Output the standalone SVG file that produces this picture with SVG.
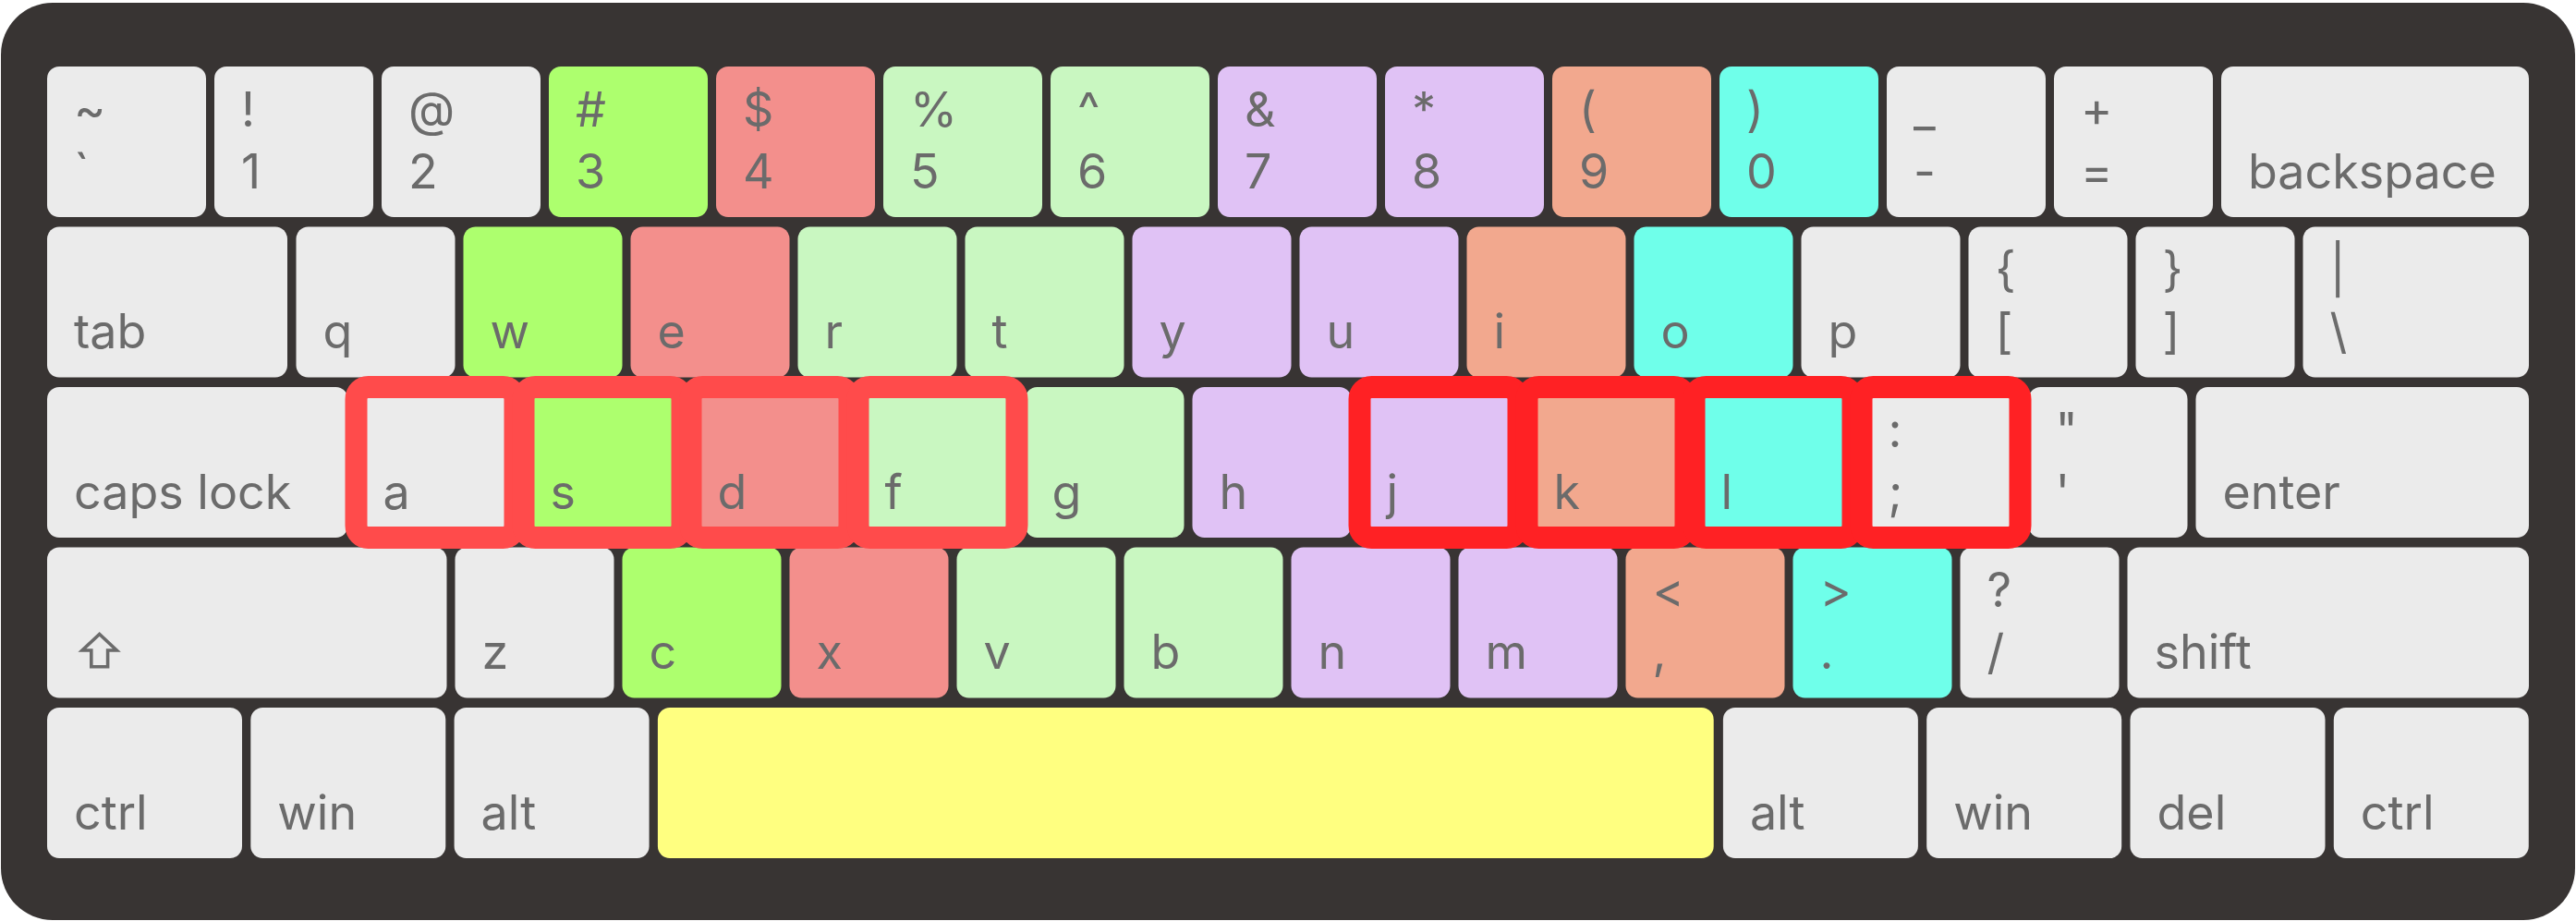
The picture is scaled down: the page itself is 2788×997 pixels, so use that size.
<svg xmlns="http://www.w3.org/2000/svg" width="2788" height="997" viewBox="0 0 2788 997">
<style>
.k{fill:#EBEBEB}
.g1{fill:#ADFF6E}
.pk{fill:#F38F8C}
.lg{fill:#C9F7C1}
.lv{fill:#E0C2F5}
.sa{fill:#F2A88E}
.cy{fill:#6FFFEA}
.sp{fill:#FFFF80}
.oL{stroke:#FF4B4B;stroke-width:24}
.oR{stroke:#FF2124;stroke-width:24}
text{font-family:Inter,"Liberation Sans",sans-serif;font-size:52px;fill:#6B6B6B}
.ic{fill:none;stroke:#6B6B6B;stroke-width:3.6;stroke-linejoin:miter}
</style>
<defs>
<rect id="u" width="172" height="163" rx="13"/>
</defs>
<rect x="1" y="3" width="2786" height="993" rx="56" fill="#383433"/>
<g id="row1">
<g id="k-tilde"><use href="#u" x="51" y="72" class="k"/><text x="80" y="136.5">~</text><text x="80" y="203.5">`</text></g>
<g id="k-1"><use href="#u" x="232" y="72" class="k"/><text x="261" y="136.5">!</text><text x="261" y="203.5">1</text></g>
<g id="k-2"><use href="#u" x="413" y="72" class="k"/><text x="442" y="136.5">@</text><text x="442" y="203.5">2</text></g>
<g id="k-3"><use href="#u" x="594" y="72" class="g1"/><text x="623" y="136.5">#</text><text x="623" y="203.5">3</text></g>
<g id="k-4"><use href="#u" x="775" y="72" class="pk"/><text x="804" y="136.5">$</text><text x="804" y="203.5">4</text></g>
<g id="k-5"><use href="#u" x="956" y="72" class="lg"/><text x="985" y="136.5">%</text><text x="985" y="203.5">5</text></g>
<g id="k-6"><use href="#u" x="1137" y="72" class="lg"/><text x="1166" y="136.5">^</text><text x="1166" y="203.5">6</text></g>
<g id="k-7"><use href="#u" x="1318" y="72" class="lv"/><text x="1347" y="136.5">&amp;</text><text x="1347" y="203.5">7</text></g>
<g id="k-8"><use href="#u" x="1499" y="72" class="lv"/><text x="1528" y="136.5">*</text><text x="1528" y="203.5">8</text></g>
<g id="k-9"><use href="#u" x="1680" y="72" class="sa"/><text x="1709" y="136.5">(</text><text x="1709" y="203.5">9</text></g>
<g id="k-0"><use href="#u" x="1861" y="72" class="cy"/><text x="1890" y="136.5">)</text><text x="1890" y="203.5">0</text></g>
<g id="k-minus"><use href="#u" x="2042" y="72" class="k"/><text x="2071" y="136.5">_</text><text x="2071" y="203.5">-</text></g>
<g id="k-equal"><use href="#u" x="2223" y="72" class="k"/><text x="2252" y="136.5">+</text><text x="2252" y="203.5">=</text></g>
<g id="k-backspace"><rect x="2404" y="72" width="333" height="163" rx="13" class="k"/><text x="2433" y="203.5">backspace</text></g>
</g>
<g id="row2">
<g id="k-tab"><rect x="51" y="245.5" width="260" height="163" rx="13" class="k"/><text x="80" y="377">tab</text></g>
<g id="k-q"><use href="#u" x="320.5" y="245.5" class="k"/><text x="349.5" y="377">q</text></g>
<g id="k-w"><use href="#u" x="501.5" y="245.5" class="g1"/><text x="530.5" y="377">w</text></g>
<g id="k-e"><use href="#u" x="682.5" y="245.5" class="pk"/><text x="711.5" y="377">e</text></g>
<g id="k-r"><use href="#u" x="863.5" y="245.5" class="lg"/><text x="892.5" y="377">r</text></g>
<g id="k-t"><use href="#u" x="1044.5" y="245.5" class="lg"/><text x="1073.5" y="377">t</text></g>
<g id="k-y"><use href="#u" x="1225.5" y="245.5" class="lv"/><text x="1254.5" y="377">y</text></g>
<g id="k-u"><use href="#u" x="1406.5" y="245.5" class="lv"/><text x="1435.5" y="377">u</text></g>
<g id="k-i"><use href="#u" x="1587.5" y="245.5" class="sa"/><text x="1616.5" y="377">i</text></g>
<g id="k-o"><use href="#u" x="1768.5" y="245.5" class="cy"/><text x="1797.5" y="377">o</text></g>
<g id="k-p"><use href="#u" x="1949.5" y="245.5" class="k"/><text x="1978.5" y="377">p</text></g>
<g id="k-lbracket"><use href="#u" x="2130.5" y="245.5" class="k"/><text x="2159.5" y="310">{</text><text x="2159.5" y="377">[</text></g>
<g id="k-rbracket"><use href="#u" x="2311.5" y="245.5" class="k"/><text x="2340.5" y="310">}</text><text x="2340.5" y="377">]</text></g>
<g id="k-backslash"><rect x="2492.5" y="245.5" width="244.5" height="163" rx="13" class="k"/><text x="2521.5" y="310">|</text><text x="2521.5" y="377">\</text></g>
</g>
<g id="row3">
<g id="k-caps"><rect x="51" y="419" width="325.5" height="163" rx="13" class="k"/><text x="80" y="550.5">caps lock</text></g>
<g id="k-g"><use href="#u" x="1109.5" y="419" class="lg"/><text x="1138.5" y="550.5">g</text></g>
<g id="k-h"><use href="#u" x="1290.5" y="419" class="lv"/><text x="1319.5" y="550.5">h</text></g>
<g id="k-quote"><use href="#u" x="2195.5" y="419" class="k"/><text x="2224.5" y="483.5">"</text><text x="2224.5" y="550.5">'</text></g>
<g id="k-enter"><rect x="2376.5" y="419" width="360.5" height="163" rx="13" class="k"/><text x="2405.5" y="550.5">enter</text></g>
</g>
<g id="row4">
<g id="k-lshift"><rect x="51" y="592.5" width="432.5" height="163" rx="13" class="k"/><path class="ic" d="M107.7,686.5 L126.3,704 L116.6,704 L116.6,721.8 L98.8,721.8 L98.8,704 L89,704 Z"/></g>
<g id="k-z"><use href="#u" x="492.5" y="592.5" class="k"/><text x="521.5" y="724">z</text></g>
<g id="k-c"><use href="#u" x="673.5" y="592.5" class="g1"/><text x="702.5" y="724">c</text></g>
<g id="k-x"><use href="#u" x="854.5" y="592.5" class="pk"/><text x="883.5" y="724">x</text></g>
<g id="k-v"><use href="#u" x="1035.5" y="592.5" class="lg"/><text x="1064.5" y="724">v</text></g>
<g id="k-b"><use href="#u" x="1216.5" y="592.5" class="lg"/><text x="1245.5" y="724">b</text></g>
<g id="k-n"><use href="#u" x="1397.5" y="592.5" class="lv"/><text x="1426.5" y="724">n</text></g>
<g id="k-m"><use href="#u" x="1578.5" y="592.5" class="lv"/><text x="1607.5" y="724">m</text></g>
<g id="k-comma"><use href="#u" x="1759.5" y="592.5" class="sa"/><text x="1788.5" y="657">&lt;</text><text x="1788.5" y="724">,</text></g>
<g id="k-period"><use href="#u" x="1940.5" y="592.5" class="cy"/><text x="1969.5" y="657">&gt;</text><text x="1969.5" y="724">.</text></g>
<g id="k-slash"><use href="#u" x="2121.5" y="592.5" class="k"/><text x="2150.5" y="657">?</text><text x="2150.5" y="724">/</text></g>
<g id="k-rshift"><rect x="2302.5" y="592.5" width="434.5" height="163" rx="13" class="k"/><text x="2331.5" y="724">shift</text></g>
</g>
<g id="row5">
<g id="k-lctrl"><rect x="51" y="766" width="211" height="163" rx="13" class="k"/><text x="80" y="897.5">ctrl</text></g>
<g id="k-lwin"><rect x="271.3" y="766" width="211" height="163" rx="13" class="k"/><text x="300.3" y="897.5">win</text></g>
<g id="k-lalt"><rect x="491.6" y="766" width="211" height="163" rx="13" class="k"/><text x="520.6" y="897.5">alt</text></g>
<g id="k-space"><rect x="711.9" y="766" width="1142.8" height="163" rx="13" class="sp"/></g>
<g id="k-ralt"><rect x="1864.9" y="766" width="211" height="163" rx="13" class="k"/><text x="1893.9" y="897.5">alt</text></g>
<g id="k-rwin"><rect x="2085.2" y="766" width="211" height="163" rx="13" class="k"/><text x="2114.2" y="897.5">win</text></g>
<g id="k-del"><rect x="2305.5" y="766" width="211" height="163" rx="13" class="k"/><text x="2334.5" y="897.5">del</text></g>
<g id="k-rctrl"><rect x="2525.8" y="766" width="211" height="163" rx="13" class="k"/><text x="2554.8" y="897.5">ctrl</text></g>
</g>
<g id="home-row-left">
<g id="k-a"><use href="#u" x="385.5" y="419" class="k oL"/><text x="414.5" y="550.5">a</text></g>
<g id="k-s"><use href="#u" x="566.5" y="419" class="g1 oL"/><text x="595.5" y="550.5">s</text></g>
<g id="k-d"><use href="#u" x="747.5" y="419" class="pk oL"/><text x="776.5" y="550.5">d</text></g>
<g id="k-f"><use href="#u" x="928.5" y="419" class="lg oL"/><text x="957.5" y="550.5">f</text></g>
</g>
<g id="home-row-right">
<g id="k-j"><use href="#u" x="1471.5" y="419" class="lv oR"/><text x="1500.5" y="550.5">j</text></g>
<g id="k-k"><use href="#u" x="1652.5" y="419" class="sa oR"/><text x="1681.5" y="550.5">k</text></g>
<g id="k-l"><use href="#u" x="1833.5" y="419" class="cy oR"/><text x="1862.5" y="550.5">l</text></g>
<g id="k-semicolon"><use href="#u" x="2014.5" y="419" class="k oR"/><text x="2043.5" y="483.5">:</text><text x="2043.5" y="550.5">;</text></g>
</g>
</svg>
